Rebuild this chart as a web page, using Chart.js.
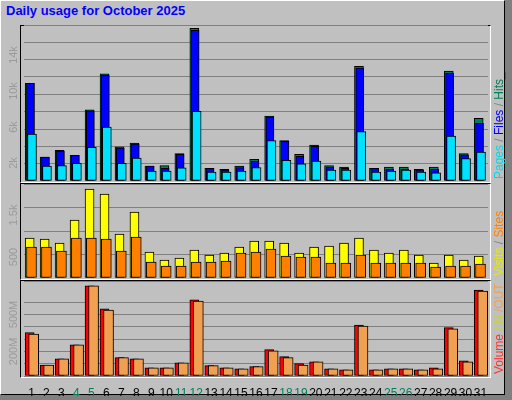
<!DOCTYPE html>
<html lang="en">
<head>
<meta charset="UTF-8">
<title>Daily usage</title>
<script src="https://cdn.jsdelivr.net/npm/chart.js"></script>
<style>
    body { margin: 0; background: #c0c0c0; }
    .frame { position: absolute; left: 0; top: 0; width: 512px; height: 400px; background: #808080; }
    .inner { position: absolute; left: 0; top: 0; width: 503px; height: 393px; background: #c0c0c0; border: 1px solid #000; border-left-color: #fff; border-top-color: #fff; }
    .titulo { position: absolute; left: 6px; top: 3px; font: bold 13px "Liberation Sans", Arial, sans-serif; color: #0000ff; }
    .panel { position: absolute; left: 20px; width: 469px; border: 1px solid #000; border-right-color: #fff; border-bottom-color: #fff; }
    canvas { position: absolute; left: 0; }
</style>
</head>
<body>
<div class="frame"><div class="inner"></div></div>
<div class="titulo">Daily usage for October 2025</div>
<div class="panel" style="top:25px;height:156px"></div>
<div class="panel" style="top:183px;height:95px"></div>
<div class="panel" style="top:280px;height:96px"></div>
<canvas id="c1" style="top:25px" width="512" height="156"></canvas>
<canvas id="c2" style="top:184px" width="512" height="94"></canvas>
<canvas id="c3" style="top:281px" width="512" height="115"></canvas>

<script>
    const dias = ['1','2','3','4','5','6','7','8','9','10','11','12','13','14','15','16','17','18','19','20','21','22','23','24','25','26','27','28','29','30','31'];
    const fimDeSemana = ['4','5','11','12','18','19','25','26'];

    const hits  = [10850,2650,3400,2850,7900,11900,3800,4200,1650,1700,3050,16950,1400,1300,1650,2400,7200,4500,2950,4000,1700,1550,12750,1400,1550,1550,1300,1550,12200,3050,6950];
    const files = [10850,2650,3300,2850,7800,11750,3650,4100,1650,1400,2950,16750,1400,1200,1500,2200,7100,4400,2750,3850,1550,1400,12550,1400,1300,1300,1200,1300,12000,2900,6400];
    const pages = [5200,1650,1700,1950,3750,6000,1950,2550,1100,1100,1450,7750,1000,1000,1100,1500,4500,2300,1900,2200,1200,1200,5500,1000,1100,1200,1000,900,5000,2500,3200];

    const visits = [952,929,833,1381,2119,2000,1048,1571,619,429,476,667,548,595,738,881,881,833,595,738,762,833,952,667,595,667,548,357,548,429,524];
    const sites  = [738,738,643,952,952,929,643,976,381,286,286,381,381,405,595,619,690,524,500,500,357,357,548,357,357,357,357,262,286,286,334];

    // volume em MB
    const volIn  = [352,89,140,254,732,545,149,140,67,67,108,618,84,67,59,76,214,157,100,116,59,51,414,51,59,59,51,67,393,124,699];
    const volOut = [341,89,140,254,732,536,149,140,67,67,108,609,84,67,59,76,205,149,89,116,59,51,405,51,59,59,51,59,384,116,691];

    const fonte = '"Liberation Sans", Arial, sans-serif';

    // desloca cada barra alguns px, como no webalizer
    const deslocar = {
        id: 'deslocar',
        afterDatasetsUpdate(chart) {
            chart.data.datasets.forEach((ds, i) => {
                chart.getDatasetMeta(i).data.forEach(el => { el.x += ds.shift || 0; });
            });
        }
    };

    // rotulos verticais do eixo y e legenda lateral
    const rotulos = {
        id: 'rotulos',
        afterDraw(chart, args, opts) {
            const ctx = chart.ctx, y = chart.scales.y, area = chart.chartArea;
            ctx.save();
            ctx.font = '11px ' + fonte;
            ctx.fillStyle = '#9a9a9a';
            ctx.textAlign = 'center';
            opts.ticks.forEach(t => {
                ctx.save();
                ctx.translate(14, y.getPixelForValue(t.v));
                ctx.rotate(-Math.PI / 2);
                ctx.textBaseline = 'middle';
                ctx.fillText(t.txt, 0, 0);
                ctx.restore();
            });
            ctx.translate(500, area.bottom - 2);
            ctx.rotate(-Math.PI / 2);
            ctx.font = '12px ' + fonte;
            ctx.textAlign = 'left';
            ctx.textBaseline = 'middle';
            let x = 0;
            opts.legenda.forEach(p => {
                ctx.fillStyle = p.cor;
                ctx.fillText(p.txt, x, 0);
                x += ctx.measureText(p.txt).width;
            });
            ctx.restore();
        }
    };

    function opcoes(max, step, rodape) {
        return {
            responsive: false,
            animation: false,
            layout: { padding: { left: 24, right: 24, top: 0, bottom: 0 } },
            plugins: { legend: { display: false }, tooltip: { enabled: false } },
            scales: {
                x: {
                    display: rodape,
                    grid: { display: false },
                    border: { display: false },
                    ticks: {
                        font: { size: 12, family: fonte },
                        padding: 2,
                        maxRotation: 0,
                        autoSkip: false,
                        color: c => fimDeSemana.includes(dias[c.index]) ? '#00805c' : '#000'
                    },
                    afterFit: s => { s.height = rodape ? 20 : 0; }
                },
                y: {
                    min: 0, max: max,
                    ticks: { stepSize: step, display: false },
                    grid: { color: '#808080', lineWidth: 1, drawTicks: false },
                    border: { display: false },
                    afterFit: s => { s.width = 0; }
                }
            }
        };
    }

    function barra(label, data, cor, largura, shift, ordem) {
        return { label, data, backgroundColor: cor, borderColor: '#000', borderWidth: 1, borderSkipped: false,
                 barThickness: largura, grouped: false, shift, order: ordem };
    }

    const o1 = opcoes(17333, 2000, false);
    o1.plugins.rotulos = {
        ticks: [{ v: 2000, txt: '2k' }, { v: 6000, txt: '6k' }, { v: 10000, txt: '10k' }, { v: 14000, txt: '14k' }],
        legenda: [{ txt: 'Pages', cor: '#00d8e8' }, { txt: ' / ', cor: '#808080' }, { txt: 'Files', cor: '#0000ff' }, { txt: ' / ', cor: '#808080' }, { txt: 'Hits_', cor: '#00805c' }]
    };
    new Chart(document.getElementById('c1'), {
        type: 'bar',
        data: { labels: dias, datasets: [
            barra('Hits', hits, '#00805c', 9, -1.8, 3),
            barra('Files', files, '#0000ff', 8, -1, 2),
            barra('Pages', pages, '#00e0ff', 9, 0.5, 1)
        ] },
        options: o1,
        plugins: [deslocar, rotulos]
    });

    const o2 = opcoes(2238, 500, false);
    o2.plugins.rotulos = {
        ticks: [{ v: 500, txt: '500' }, { v: 1500, txt: '1.5k' }],
        legenda: [{ txt: 'Visits', cor: '#e8e800' }, { txt: ' / ', cor: '#808080' }, { txt: 'Sites', cor: '#ff8000' }]
    };
    new Chart(document.getElementById('c2'), {
        type: 'bar',
        data: { labels: dias, datasets: [
            barra('Visits', visits, '#ffff00', 9, -1.8, 2),
            barra('Sites', sites, '#ff8000', 10, 0, 1)
        ] },
        options: o2,
        plugins: [deslocar, rotulos]
    });

    const o3 = opcoes(772, 100, true);
    o3.plugins.rotulos = {
        ticks: [{ v: 200, txt: '200M' }, { v: 500, txt: '500M' }],
        legenda: [{ txt: 'Volume', cor: '#ff3030' }, { txt: ' /IN', cor: '#c8d040' }, { txt: ' /OUT', cor: '#f0a050' }]
    };
    new Chart(document.getElementById('c3'), {
        type: 'bar',
        data: { labels: dias, datasets: [
            barra('IN', volIn, '#ff0000', 9, -1.8, 2),
            barra('OUT', volOut, '#f0a050', 10, 2.2, 1)
        ] },
        options: o3,
        plugins: [deslocar, rotulos]
    });
</script>
</body>
</html>
